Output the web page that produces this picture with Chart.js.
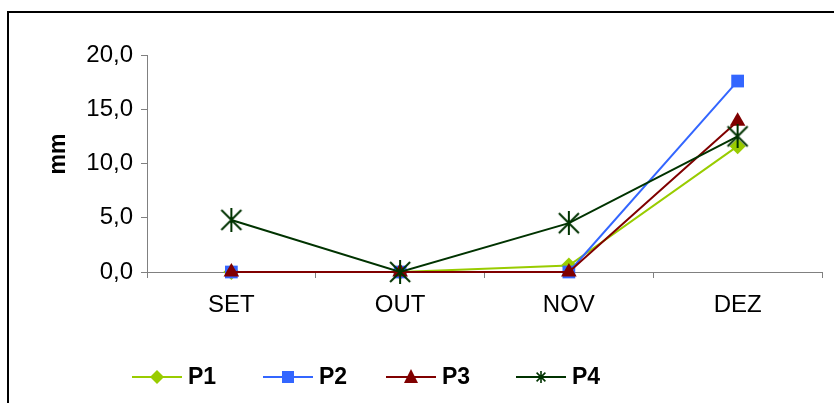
<!DOCTYPE html>
<html><head><meta charset="utf-8">
<script src="https://cdn.jsdelivr.net/npm/chart.js@4.4.1/dist/chart.umd.min.js"></script>
<style>html,body{margin:0;padding:0;background:#fff;overflow:hidden}#wrap{width:834px;height:403px;position:relative}</style>
</head><body><div id="wrap"><canvas id="c" width="834" height="403"></canvas></div>
<script>
const categories = ['SET', 'OUT', 'NOV', 'DEZ'];
const seriesNames = ['P1', 'P2', 'P3', 'P4'];
const p1Values = [0.0, 0.0, 0.6, 11.6];
const p2Values = [0.0, 0.0, 0.0, 17.6];
const p3Values = [0.0, 0.0, 0.0, 13.9];
const p4Values = [4.8, 0.0, 4.5, 12.5];
const yTickValues = [0, 5, 10, 15, 20];
const yTitle = 'mm';

const colors = ['#99CC00', '#3366FF', '#800000', '#003300'];
const FONT = "'Liberation Sans', Arial, sans-serif";

function starCanvas(color, size, lw) {
  const cv = document.createElement('canvas');
  cv.width = size; cv.height = size;
  const g = cv.getContext('2d');
  g.strokeStyle = color; g.lineWidth = lw; g.lineCap = 'butt';
  const m = lw;
  g.beginPath();
  g.moveTo(m, m); g.lineTo(size - m, size - m);
  g.moveTo(size - m, m); g.lineTo(m, size - m);
  g.moveTo(size / 2, 0); g.lineTo(size / 2, size);
  g.stroke();
  return cv;
}
const bigStar = starCanvas(colors[3], 24, 2);
const smallStar = starCanvas(colors[3], 12, 1.6);

const pointStyles = ['rectRot', 'rect', 'triangle', bigStar];
const pointRadii = [8, 9, 9, 12];
const seriesValues = [p1Values, p2Values, p3Values, p4Values];

const datasets = seriesNames.map((name, i) => ({
  label: name,
  data: seriesValues[i],
  borderColor: colors[i],
  backgroundColor: colors[i],
  pointBackgroundColor: colors[i],
  pointBorderColor: colors[i],
  pointBorderWidth: 0,
  borderWidth: 2,
  pointStyle: pointStyles[i],
  pointRadius: pointRadii[i],
  pointHoverRadius: pointRadii[i],
  tension: 0,
  clip: false,
  order: 4 - i
}));

const framePlugin = {
  id: 'frame',
  beforeDraw(chart) {
    const c = chart.ctx;
    c.save();
    c.fillStyle = '#fff';
    c.fillRect(0, 0, chart.width, chart.height);
    c.strokeStyle = '#000';
    c.lineWidth = 2;
    c.strokeRect(8, 12, chart.width + 20, chart.height + 20);
    c.restore();
  },
  afterDraw(chart) {
    const c = chart.ctx;
    c.save();
    c.translate(65, 154);
    c.rotate(-Math.PI / 2);
    c.fillStyle = '#000';
    c.font = "bold 23px " + FONT;
    c.textAlign = 'center';
    c.textBaseline = 'alphabetic';
    c.fillText(yTitle, 0, 0);
    c.restore();
  }
};

const legendPlugin = {
  id: 'customLegend',
  afterDraw(chart) {
    const c = chart.ctx;
    const y = 377;
    const starts = [132, 263, 386, 516];
    c.save();
    seriesNames.forEach((name, i) => {
      const x0 = starts[i], x1 = x0 + 50, xm = x0 + 25;
      c.strokeStyle = colors[i]; c.lineWidth = 2;
      c.beginPath(); c.moveTo(x0, y); c.lineTo(x1, y); c.stroke();
      c.fillStyle = colors[i];
      c.beginPath();
      if (i === 0) { c.moveTo(xm, y - 7); c.lineTo(xm + 7, y); c.lineTo(xm, y + 7); c.lineTo(xm - 7, y); c.closePath(); c.fill(); }
      else if (i === 1) { c.fillRect(xm - 6, y - 6, 12, 12); }
      else if (i === 2) { c.moveTo(xm, y - 8); c.lineTo(xm + 7, y + 6); c.lineTo(xm - 7, y + 6); c.closePath(); c.fill(); }
      else { c.drawImage(smallStar, xm - 6, y - 6); }
      c.fillStyle = '#000';
      c.font = "bold 23px " + FONT;
      c.textBaseline = 'middle';
      c.textAlign = 'left';
      c.fillText(name, x1 + 6, y + 1);
    });
    c.restore();
  }
};

new Chart(document.getElementById('c'), {
  type: 'line',
  data: { labels: categories, datasets },
  options: {
    responsive: false,
    animation: false,
    devicePixelRatio: 1,
    layout: { padding: { left: 0, top: 55, right: 6, bottom: 0 } },
    plugins: { legend: { display: false }, tooltip: { enabled: false } },
    scales: {
      x: {
        type: 'category',
        offset: true,
        grid: { offset: true, drawOnChartArea: false, drawTicks: true, tickLength: 6, color: '#808080', lineWidth: 1 },
        border: { color: '#808080', width: 1 },
        ticks: { font: { family: FONT, size: 24 }, color: '#000', padding: 13, maxRotation: 0 },
        afterFit(s) { s.height = 131; }
      },
      y: {
        min: 0, max: 20,
        afterBuildTicks(s) { s.ticks = yTickValues.map(v => ({ value: v })); },
        ticks: { font: { family: FONT, size: 24 }, color: '#000', padding: 8,
                 callback: v => v.toFixed(1).replace('.', ',') },
        grid: { drawOnChartArea: false, drawTicks: true, tickLength: 6, color: '#808080' },
        border: { color: '#808080', width: 1 },
        title: { display: false, text: yTitle },
        afterFit(s) { s.width = 147; }
      }
    }
  },
  plugins: [framePlugin, legendPlugin]
});
</script>
</body></html>
